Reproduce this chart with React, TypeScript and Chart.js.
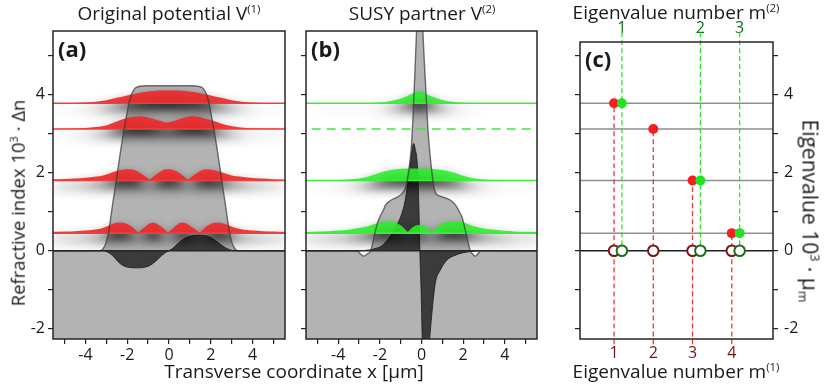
import React, { useEffect, useRef } from 'react';
import { Chart, registerables } from 'chart.js';

// Plugin registered before the filler so that a dataset's fill can cast a soft shadow
const shadowPlugin: any = {
  id: 'modeShadow',
  beforeDatasetDraw(chart: any, args: any) {
    const ds = chart.data.datasets[args.index];
    if (ds && ds.shadow) {
      const ctx = chart.ctx;
      ctx.save();
      ctx.shadowColor = 'rgba(0,0,0,1)';
      ctx.shadowBlur = 12;
      ctx.shadowOffsetX = 0;
      ctx.shadowOffsetY = 7;
    }
  },
  afterDatasetDraw(chart: any, args: any) {
    const ds = chart.data.datasets[args.index];
    if (ds && ds.shadow) chart.ctx.restore();
  },
};
Chart.register(shadowPlugin);
Chart.register(...registerables);

const FONT = "'Open Sans', 'DejaVu Sans', sans-serif";

// ---------------- data ----------------
const xTicks = [-5, -4, -3, -2, -1, 0, 1, 2, 3, 4, 5];
const xTickLabels = ['', '-4', '', '-2', '', '0', '', '2', '', '4', ''];
const yTicks = [-2, -1, 0, 1, 2, 3, 4, 5];
const yTickLabels = ['-2', '', '0', '', '2', '', '4', ''];

const eigenIndex1 = [1, 2, 3, 4];
const eigenValues1 = [3.78, 3.12, 1.8, 0.45];
const eigenIndex2 = [1, 2, 3];
const eigenValues2 = [3.78, 1.8, 0.45];
const eigenAxis2 = [1.2, 3.2, 4.2];
const removedLevel = 3.12;

// original potential V(1)
const v1X = [-6, -3.3, -3.15, -3.02, -2.9, -2.8, -2.68, -2.52, -2.36, -2.2, -2.05, -1.93, -1.8, -1.65, -1.45, -1.0, 1.0, 1.45, 1.65, 1.8, 1.93, 2.05, 2.2, 2.36, 2.52, 2.68, 2.8, 2.9, 3.02, 3.15, 3.3, 6];
const v1Y = [0, 0, 0.05, 0.2, 0.45, 0.8, 1.25, 1.81, 2.4, 2.95, 3.4, 3.75, 4.0, 4.15, 4.21, 4.23, 4.23, 4.21, 4.15, 4.0, 3.75, 3.4, 2.95, 2.4, 1.81, 1.25, 0.8, 0.45, 0.2, 0.05, 0, 0];
// dark profile in (a)
const w1X = [-6, -3.2, -3.0, -2.8, -2.6, -2.4, -2.2, -2.0, -1.5, -1.0, -0.8, -0.6, -0.4, -0.2, 0, 0.2, 0.4, 0.6, 0.8, 1.0, 1.4, 1.8, 2.0, 2.2, 2.4, 2.6, 2.8, 3.0, 3.2, 6];
const w1Y = [0, 0, -0.02, -0.08, -0.18, -0.3, -0.38, -0.42, -0.44, -0.4, -0.34, -0.25, -0.15, -0.06, 0, 0.07, 0.17, 0.26, 0.33, 0.37, 0.4, 0.38, 0.34, 0.27, 0.19, 0.11, 0.05, 0.01, 0, 0];

// modes of V(1) (height above their eigenvalue line)
const modeA1X = [-5.6, -4.5, -4.0, -3.5, -3.0, -2.5, -2.0, -1.5, -1.0, -0.5, 0, 0.5, 1.0, 1.5, 2.0, 2.5, 3.0, 3.5, 4.0, 4.5, 5.6];
const modeA1H = [0.004, 0.01, 0.02, 0.04, 0.075, 0.14, 0.2, 0.26, 0.3, 0.325, 0.33, 0.325, 0.3, 0.26, 0.2, 0.14, 0.075, 0.04, 0.02, 0.01, 0.004];
const modeA2X = [-5.6, -4.5, -4.0, -3.5, -3.0, -2.5, -2.0, -1.45, -0.95, -0.5, -0.1, 0.3, 0.7, 1.15, 1.6, 2.1, 2.6, 3.1, 3.6, 4.1, 4.6, 5.6];
const modeA2H = [0.005, 0.015, 0.025, 0.05, 0.09, 0.19, 0.28, 0.325, 0.29, 0.22, 0.17, 0.22, 0.29, 0.325, 0.29, 0.21, 0.12, 0.065, 0.035, 0.018, 0.01, 0.005];
const modeA3X = [-5.6, -5.0, -4.5, -4.0, -3.5, -3.15, -2.85, -2.55, -2.3, -1.97, -1.75, -1.5, -1.25, -1.05, -0.92, -0.8, -0.6, -0.4, -0.2, -0.05, 0.1, 0.3, 0.5, 0.7, 0.8, 0.91, 1.03, 1.2, 1.4, 1.6, 1.78, 2.1, 2.4, 2.7, 3.0, 3.4, 3.9, 4.4, 5.0, 5.6];
const modeA3H = [0.028, 0.037, 0.05, 0.07, 0.1, 0.13, 0.18, 0.235, 0.27, 0.29, 0.28, 0.23, 0.15, 0.075, 0.03, 0.08, 0.16, 0.23, 0.28, 0.29, 0.285, 0.25, 0.19, 0.11, 0.07, 0.03, 0.07, 0.14, 0.21, 0.27, 0.29, 0.27, 0.23, 0.18, 0.13, 0.1, 0.07, 0.05, 0.035, 0.027];
const modeA4X = [-5.6, -5.0, -4.5, -4.0, -3.6, -3.25, -2.95, -2.65, -2.3, -1.95, -1.75, -1.58, -1.47, -1.35, -1.2, -1.0, -0.77, -0.55, -0.35, -0.2, -0.04, 0.1, 0.25, 0.4, 0.6, 0.85, 1.05, 1.25, 1.35, 1.46, 1.58, 1.75, 1.95, 2.27, 2.6, 2.9, 3.2, 3.6, 4.0, 4.5, 5.0, 5.6];
const modeA4H = [0.033, 0.04, 0.05, 0.065, 0.085, 0.12, 0.18, 0.25, 0.27, 0.22, 0.15, 0.07, 0.02, 0.075, 0.14, 0.22, 0.27, 0.23, 0.16, 0.09, 0.02, 0.08, 0.15, 0.22, 0.27, 0.24, 0.17, 0.1, 0.06, 0.02, 0.07, 0.15, 0.22, 0.27, 0.25, 0.19, 0.13, 0.09, 0.065, 0.05, 0.04, 0.033];

// SUSY partner V(2)
const v2X = [-6, -3.1, -2.95, -2.78, -2.6, -2.44, -2.28, -2.15, -2.0, -1.85, -1.73, -1.45, -1.15, -0.93, -0.75, -0.6, -0.5, -0.42, -0.33, -0.24, -0.08, 0.07, 0.2, 0.31, 0.39, 0.5, 0.63, 0.8, 1.0, 1.38, 1.62, 1.8, 1.94, 2.18, 2.34, 2.45, 2.58, 2.72, 2.85, 6];
const v2Y = [0, 0, -0.07, -0.14, -0.08, 0, 0.36, 0.65, 0.87, 1.02, 1.17, 1.3, 1.38, 1.47, 1.65, 2.1, 2.58, 3.3, 4.4, 5.6, 8, 5.6, 4.2, 3.1, 2.58, 2.0, 1.55, 1.42, 1.38, 1.3, 1.18, 1.02, 0.87, 0.36, 0, -0.08, -0.14, -0.07, 0, 0];
const w2X = [-6, -3.0, -2.5, -2.2, -1.9, -1.65, -1.4, -1.2, -1.0, -0.8, -0.66, -0.55, -0.45, -0.38, -0.3, -0.2, -0.12, -0.08, -0.02, 0.05, 0.2, 0.35, 0.5, 0.66, 0.9, 1.22, 1.6, 2.0, 2.5, 3.0, 6];
const w2Y = [0, 0, 0.02, 0.06, 0.13, 0.27, 0.45, 0.65, 0.87, 1.25, 1.73, 2.2, 2.6, 2.75, 2.6, 2.2, 1.0, 0, -1.0, -2.5, -3.2, -2.5, -1.6, -0.84, -0.5, -0.24, -0.12, -0.05, -0.015, 0, 0];
const modeB1X = [-5.6, -3.0, -2.5, -2.0, -1.6, -1.2, -0.85, -0.5, -0.3, -0.13, 0.05, 0.3, 0.6, 1.0, 1.4, 2.0, 2.5, 3.0, 5.6];
const modeB1H = [0, 0.004, 0.01, 0.02, 0.045, 0.09, 0.15, 0.23, 0.28, 0.29, 0.28, 0.22, 0.155, 0.085, 0.045, 0.016, 0.008, 0.003, 0];
const modeB2X = [-5.6, -4.5, -4.0, -3.5, -3.0, -2.5, -2.0, -1.5, -1.0, -0.3, 0.4, 1.0, 1.5, 2.0, 2.5, 3.0, 3.5, 4.0, 5.6];
const modeB2H = [0.002, 0.005, 0.01, 0.025, 0.05, 0.11, 0.2, 0.27, 0.3, 0.305, 0.3, 0.27, 0.21, 0.12, 0.055, 0.025, 0.012, 0.005, 0.002];
const modeB3X = [-5.6, -5.0, -4.5, -4.0, -3.5, -3.0, -2.5, -2.1, -1.6, -1.25, -1.0, -0.85, -0.75, -0.66, -0.56, -0.4, -0.22, -0.08, 0.08, 0.25, 0.4, 0.5, 0.6, 0.75, 0.95, 1.2, 1.6, 2.0, 2.5, 3.0, 3.5, 4.0, 4.5, 5.0, 5.6];
const modeB3H = [0.03, 0.04, 0.05, 0.065, 0.09, 0.13, 0.19, 0.26, 0.3, 0.27, 0.2, 0.13, 0.08, 0.04, 0.09, 0.16, 0.2, 0.21, 0.2, 0.16, 0.09, 0.04, 0.09, 0.16, 0.23, 0.28, 0.3, 0.27, 0.18, 0.12, 0.085, 0.06, 0.045, 0.035, 0.03];

// ---------------- helpers ----------------
const X_MIN = -5.55, X_MAX = 5.55, Y_MIN = -2.264, Y_MAX = 5.633, Y_MAX_C = 5.35, C_MIN = 0.133, C_MAX = 5.05;
const pts = (xs: number[], ys: number[], off = 0) => xs.map((x, i) => ({ x, y: ys[i] + off }));
const hline = (y: number, a = -6, b = 6) => [{ x: a, y }, { x: b, y }];

const tickFont = { family: FONT, size: 16 };
const gridTicks = { drawOnChartArea: false, drawTicks: true, tickLength: 5, color: '#222', lineWidth: 1.2 };

const framePlugin = {
  id: 'frame',
  afterDatasetsDraw(chart: any) {
    const { ctx, chartArea } = chart;
    ctx.save();
    ctx.strokeStyle = '#262626';
    ctx.lineWidth = 1.5;
    ctx.strokeRect(chartArea.left, chartArea.top, chartArea.right - chartArea.left, chartArea.bottom - chartArea.top);
    ctx.restore();
  },
};

function yAxis(position: string, width: number, labels: boolean, max: number, padding = 3) {
  return {
    type: 'linear', min: Y_MIN, max, position,
    afterBuildTicks: (s: any) => { s.ticks = yTicks.map((v) => ({ value: v })); },
    afterFit: (s: any) => { s.width = width; },
    ticks: { display: labels, autoSkip: false, padding, color: '#1a1a1a', font: tickFont, callback: (v: number) => yTickLabels[yTicks.indexOf(v)] ?? '' },
    grid: gridTicks,
    border: { display: false },
  };
}
function xAxisAB() {
  return {
    type: 'linear', min: X_MIN, max: X_MAX, position: 'bottom',
    afterBuildTicks: (s: any) => { s.ticks = xTicks.map((v) => ({ value: v })); },
    afterFit: (s: any) => { s.height = 47; },
    ticks: { autoSkip: false, maxRotation: 0, padding: 2, color: '#1a1a1a', font: tickFont, callback: (v: number) => xTickLabels[xTicks.indexOf(v)] ?? '' },
    grid: gridTicks,
    border: { display: false },
  };
}
function baseOptions(scales: any, padding: any) {
  return {
    responsive: false, animation: false, devicePixelRatio: 1, events: [],
    layout: { padding },
    plugins: { legend: { display: false }, tooltip: { enabled: false }, title: { display: false } },
    elements: { point: { radius: 0 }, line: { cubicInterpolationMode: 'monotone' } },
    scales,
  };
}

function potentialPanel(vX: number[], vY: number[], wX: number[], wY: number[], modes: { x: number[]; h: number[]; level: number }[], fill: string, line: string, dashedLevel: number | null) {
  const datasets: any[] = [];
  datasets.push({ data: pts(vX, vY), fill: 'start', backgroundColor: '#b3b3b3', borderWidth: 0, order: 30 });
  datasets.push({ data: pts(wX, wY), fill: { value: 0 }, backgroundColor: 'rgba(40,40,40,0.86)', borderColor: 'rgba(25,25,25,0.8)', borderWidth: 1, order: 29 });
  modes.forEach((m, i) => {
    datasets.push({ data: pts(m.x, m.h, m.level), fill: { value: m.level }, backgroundColor: fill, borderWidth: 0, shadow: true, order: 20 - i });
    datasets.push({ data: hline(m.level), borderColor: line, borderWidth: 1.6, fill: false, order: 6 });
  });
  if (dashedLevel !== null) datasets.push({ data: hline(dashedLevel), borderColor: line, borderWidth: 1.5, borderDash: [9, 6], fill: false, order: 6 });
  datasets.push({ data: pts(vX, vY), fill: false, borderColor: 'rgba(55,55,55,0.7)', borderWidth: 1.4, order: 3 });
  datasets.push({ data: hline(0), fill: false, borderColor: '#262626', borderWidth: 1.5, order: 1 });
  return datasets;
}

function configA() {
  const modes = [
    { x: modeA1X, h: modeA1H, level: eigenValues1[0] },
    { x: modeA2X, h: modeA2H, level: eigenValues1[1] },
    { x: modeA3X, h: modeA3H, level: eigenValues1[2] },
    { x: modeA4X, h: modeA4H, level: eigenValues1[3] },
  ];
  return {
    type: 'line',
    data: { datasets: potentialPanel(v1X, v1Y, w1X, w1Y, modes, 'rgba(238,42,42,0.92)', 'rgb(240,62,62)', null) },
    options: baseOptions({ x: xAxisAB(), y: yAxis('left', 53, true, Y_MAX) }, { top: 31, right: 5, left: 0, bottom: 0 }),
    plugins: [framePlugin],
  };
}
function configB() {
  const modes = [
    { x: modeB1X, h: modeB1H, level: eigenValues2[0] },
    { x: modeB2X, h: modeB2H, level: eigenValues2[1] },
    { x: modeB3X, h: modeB3H, level: eigenValues2[2] },
  ];
  return {
    type: 'line',
    data: { datasets: potentialPanel(v2X, v2Y, w2X, w2Y, modes, 'rgba(42,240,42,0.88)', 'rgb(60,236,60)', removedLevel) },
    options: baseOptions({ x: xAxisAB(), y: yAxis('left', 16, false, Y_MAX) }, { top: 31, right: 3, left: 0, bottom: 0 }),
    plugins: [framePlugin],
  };
}
function configC() {
  const datasets: any[] = [];
  eigenValues1.forEach((v) => datasets.push({ data: hline(v, -1, 7), borderColor: '#8e8e8e', borderWidth: 1.5, fill: false, order: 20 }));
  datasets.push({ data: hline(0, -1, 7), borderColor: '#1e1e1e', borderWidth: 1.5, fill: false, order: 19 });
  eigenIndex1.forEach((m, i) => datasets.push({ data: [{ x: m, y: -2.4 }, { x: m, y: eigenValues1[i] }], borderColor: 'rgba(236,45,45,0.95)', borderWidth: 1.3, borderDash: [5, 3], fill: false, clip: false, order: 15 }));
  eigenAxis2.forEach((m) => datasets.push({ data: [{ x: m, y: 5.6 }, { x: m, y: 0 }], borderColor: 'rgba(40,228,40,0.95)', borderWidth: 1.3, borderDash: [5, 3], fill: false, clip: false, order: 14 }));
  datasets.push({ data: eigenIndex1.map((m) => ({ x: m, y: 0 })), showLine: false, pointRadius: 5.3, pointBorderWidth: 2, pointBackgroundColor: '#ffffff', pointBorderColor: '#7d1414', order: 8 });
  datasets.push({ data: eigenAxis2.map((m) => ({ x: m, y: 0 })), showLine: false, pointRadius: 5.3, pointBorderWidth: 2, pointBackgroundColor: '#ffffff', pointBorderColor: '#1d6b1d', order: 7 });
  datasets.push({ data: eigenIndex1.map((m, i) => ({ x: m, y: eigenValues1[i] })), showLine: false, pointRadius: 5, pointBorderWidth: 0, pointBackgroundColor: '#f41f1f', order: 6 });
  datasets.push({ data: eigenAxis2.map((m, i) => ({ x: m, y: eigenValues2[i] })), showLine: false, pointRadius: 5, pointBorderWidth: 0, pointBackgroundColor: '#22e222', order: 5 });
  const scales = {
    x: {
      type: 'linear', min: C_MIN, max: C_MAX, position: 'bottom',
      afterBuildTicks: (s: any) => { s.ticks = eigenIndex1.map((v) => ({ value: v })); },
      afterFit: (s: any) => { s.height = 47; },
      ticks: { autoSkip: false, maxRotation: 0, padding: 5, color: '#7a1515', font: tickFont, callback: (v: number) => String(eigenIndex1[eigenIndex1.indexOf(v)]) },
      grid: { display: false, drawTicks: false },
      border: { display: false },
    },
    x2: {
      type: 'linear', min: C_MIN, max: C_MAX, position: 'top',
      afterBuildTicks: (s: any) => { s.ticks = eigenAxis2.map((v) => ({ value: v })); },
      afterFit: (s: any) => { s.height = 42; },
      ticks: { autoSkip: false, maxRotation: 0, padding: 4, color: '#1a6a1a', font: tickFont, callback: (v: number) => String(eigenIndex2[eigenAxis2.indexOf(v)]) },
      grid: { display: false, drawTicks: false },
      border: { display: false },
    },
    y: yAxis('left', 40, false, Y_MAX_C),
    y2: yAxis('right', 57, true, Y_MAX_C, 6),
  };
  return {
    type: 'line',
    data: { datasets },
    options: baseOptions(scales, { top: 0, right: 0, left: 0, bottom: 0 }),
    plugins: [framePlugin],
  };
}

function ChartCanvas({ make, left, width }: { make: () => any; left: number; width: number }) {
  const ref = useRef<HTMLCanvasElement>(null);
  useEffect(() => {
    const chart = new Chart(ref.current as HTMLCanvasElement, make());
    return () => chart.destroy();
  }, []);
  return <canvas ref={ref} width={width} height={386} style={{ position: 'absolute', left, top: 0, width, height: 386 }} />;
}

const sup = { fontSize: '0.6em', verticalAlign: '0.6em', lineHeight: 0 } as React.CSSProperties;
const sub = { fontSize: '0.6em', verticalAlign: '-0.3em', lineHeight: 0 } as React.CSSProperties;

function Text({ cx, y, size = 19, children, rotate = 0, bold = false, left }: any) {
  const style: React.CSSProperties = {
    position: 'absolute', whiteSpace: 'nowrap', fontSize: size, lineHeight: 1, fontWeight: bold ? 700 : 400, color: '#1a1a1a',
  };
  if (left !== undefined) {
    style.left = left; style.top = y;
  } else {
    style.left = cx; style.top = y;
    style.transform = `translate(-50%,-50%)${rotate ? ` rotate(${rotate}deg)` : ''}`;
  }
  return <div style={style}>{children}</div>;
}

export default function App() {
  return (
    <div style={{ position: 'absolute', left: 0, top: 0, width: 830, height: 386, background: '#fff', overflow: 'hidden', fontFamily: FONT }}>
      <ChartCanvas make={configA} left={0} width={290} />
      <ChartCanvas make={configB} left={290} width={250} />
      <ChartCanvas make={configC} left={540} width={290} />
      <Text cx={169} y={13}>Original potential V<span style={sup}>(1)</span></Text>
      <Text cx={422} y={13}>SUSY partner V<span style={sup}>(2)</span></Text>
      <Text cx={676} y={12}>Eigenvalue number m<span style={sup}>(2)</span></Text>
      <Text cx={294} y={371}>Transverse coordinate x [μm]</Text>
      <Text cx={676} y={371}>Eigenvalue number m<span style={sup}>(1)</span></Text>
      <Text cx={18} y={203} size={18.5} rotate={-90}>Refractive index 10<span style={sup}>3</span> · Δn</Text>
      <Text cx={810} y={211} size={21} rotate={90}>Eigenvalue 10<span style={sup}>3</span> · μ<span style={sub}>m</span></Text>
      <Text left={58} y={37} size={22} bold>(a)</Text>
      <Text left={311} y={37} size={22} bold>(b)</Text>
      <Text left={585} y={47} size={22} bold>(c)</Text>
    </div>
  );
}
